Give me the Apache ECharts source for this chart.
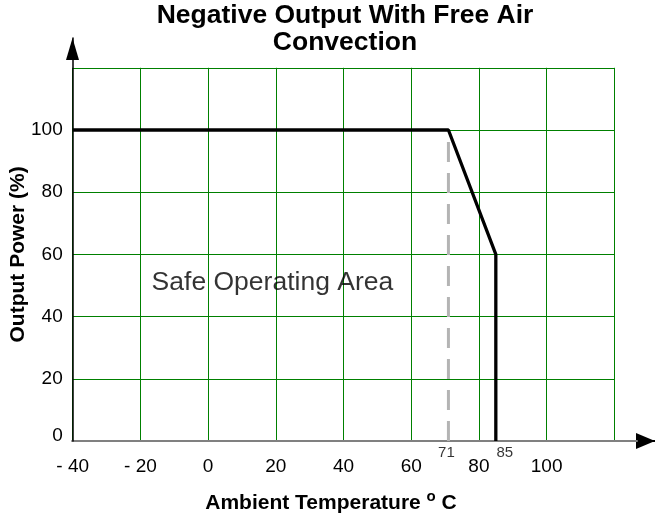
<!DOCTYPE html>
<html>
<head>
<meta charset="utf-8">
<script src="https://cdn.jsdelivr.net/npm/echarts@6/dist/echarts.min.js"></script>
<style>
html,body{margin:0;padding:0;background:#fff;}
#chart{width:655px;height:518px;}
</style>
</head>
<body>
<div id="chart"></div>
<script>
// ---- data ----
const curveTemp = [-40, 71, 85, 85];
const curvePower = [100, 100, 60, 0];
const markedTemps = [71, 85];
const markedLabels = ['71', '85'];
const dashedTemp = 71;
const dashedPower = [0, 100];
const areaLabel = 'Safe Operating Area';
const areaLabelPos = [19, 51];
const titleText = 'Negative Output With Free Air\nConvection';
const xName = 'Ambient Temperature {s|o} C';
const yName = 'Output Power (%)';

const FONT = 'Liberation Sans, Arial, sans-serif';
const GREEN = '#008000';

const chart = echarts.init(document.getElementById('chart'), null, {renderer: 'canvas'});

const curveData = curveTemp.map((t, i) => [t, curvePower[i]]);
const dashedData = dashedPower.map(p => [dashedTemp, p]);
const markData = markedTemps.map((t, i) => ({
  value: [t, 0],
  name: markedLabels[i],
  label: {offset: i === 0 ? [-2, 0] : [9, 0]}
}));

const option = {
  animation: false,
  backgroundColor: '#fff',
  textStyle: {fontFamily: FONT},
  title: {
    text: titleText,
    left: 345,
    top: 2,
    padding: 0,
    textAlign: 'center',
    textStyle: {fontFamily: FONT, fontSize: 26.5, fontWeight: 'bold', color: '#000', lineHeight: 27}
  },
  grid: [
    {left: 72.7, right: 40.7, top: 67.8, bottom: 77, outerBoundsMode: 'none', containLabel: false},
    {left: 72.5, right: 0, top: 38, bottom: 77, outerBoundsMode: 'none', containLabel: false},
    {left: 72.5, right: 18, top: 38, bottom: 77, outerBoundsMode: 'none', containLabel: false}
  ],
  xAxis: [
    {
      gridIndex: 0, type: 'value', min: -40, max: 120, interval: 20,
      axisLine: {show: false}, axisTick: {show: false},
      splitLine: {show: true, lineStyle: {color: GREEN, width: 1}},
      axisLabel: {
        color: '#000', fontSize: 19, fontFamily: FONT, margin: 16,
        formatter: v => v === 120 ? '' : (v < 0 ? '- ' + (-v) : String(v))
      },
      name: xName, nameLocation: 'middle', nameGap: 48, nameMoveOverlap: false,
      nameTextStyle: {
        color: '#000', fontSize: 21, fontWeight: 'bold', fontFamily: FONT,
        padding: [0, 25, 0, 0],
        rich: {s: {fontSize: 15, fontWeight: 'bold', fontFamily: FONT, color: '#000', padding: [0, 0, 14, 0]}}
      }
    },
    {
      gridIndex: 1, type: 'value', min: 0, max: 1, z: 0,
      axisLine: {show: true, symbol: ['none', 'triangle'], symbolSize: [16, 19], symbolOffset: [0, -9.5],
        lineStyle: {color: '#000', width: 2}},
      axisTick: {show: false}, axisLabel: {show: false}, splitLine: {show: false}
    },
    {
      gridIndex: 2, type: 'value', min: 0, max: 1, z: 1,
      axisLine: {show: true, lineStyle: {color: '#808080', width: 2}},
      axisTick: {show: false}, axisLabel: {show: false}, splitLine: {show: false}
    }
  ],
  yAxis: [
    {
      gridIndex: 0, type: 'value', min: 0, max: 120, interval: 20,
      axisLine: {show: false}, axisTick: {show: false},
      splitLine: {show: true, lineStyle: {color: GREEN, width: 1}},
      axisLabel: {
        color: '#000', fontSize: 19, fontFamily: FONT, margin: 10,
        formatter: v => v === 120 ? '' : (v === 0 ? '{z|0}' : String(v)),
        rich: {z: {fontSize: 19, fontFamily: FONT, color: '#000', padding: [0, 0, 10, 0]}}
      },
      name: yName, nameLocation: 'middle', nameGap: 44, nameMoveOverlap: false,
      nameTextStyle: {color: '#000', fontSize: 21, fontWeight: 'bold', fontFamily: FONT}
    },
    {
      gridIndex: 1, type: 'value', min: 0, max: 1, z: 2,
      axisLine: {show: true, symbol: ['none', 'triangle'], symbolSize: [13, 22], symbolOffset: [0, -11],
        lineStyle: {color: '#000', width: 1.5}},
      axisTick: {show: false}, axisLabel: {show: false}, splitLine: {show: false}
    },
    {
      gridIndex: 2, type: 'value', min: 0, max: 1, show: false
    }
  ],
  series: [
    {
      type: 'line', xAxisIndex: 0, yAxisIndex: 0, data: dashedData,
      showSymbol: false, silent: true, z: 3,
      lineStyle: {color: '#b4b4b4', width: 3, type: [20, 11]}
    },
    {
      type: 'line', xAxisIndex: 0, yAxisIndex: 0, data: curveData,
      showSymbol: false, silent: true, z: 5,
      lineStyle: {color: '#000', width: 3.3}
    },
    {
      type: 'scatter', xAxisIndex: 0, yAxisIndex: 0, symbolSize: 0, silent: true, z: 6,
      data: [{value: areaLabelPos, name: areaLabel}],
      label: {show: true, position: 'inside', formatter: '{b}', color: '#000', fontSize: 26.5, fontFamily: FONT}
    },
    {
      type: 'scatter', xAxisIndex: 0, yAxisIndex: 0, symbolSize: 0, silent: true, z: 6,
      data: markData,
      label: {show: true, position: 'bottom', distance: 4.5, formatter: '{b}', color: '#000', fontSize: 15, fontFamily: FONT}
    }
  ]
};
chart.setOption(option);
</script>
</body>
</html>
